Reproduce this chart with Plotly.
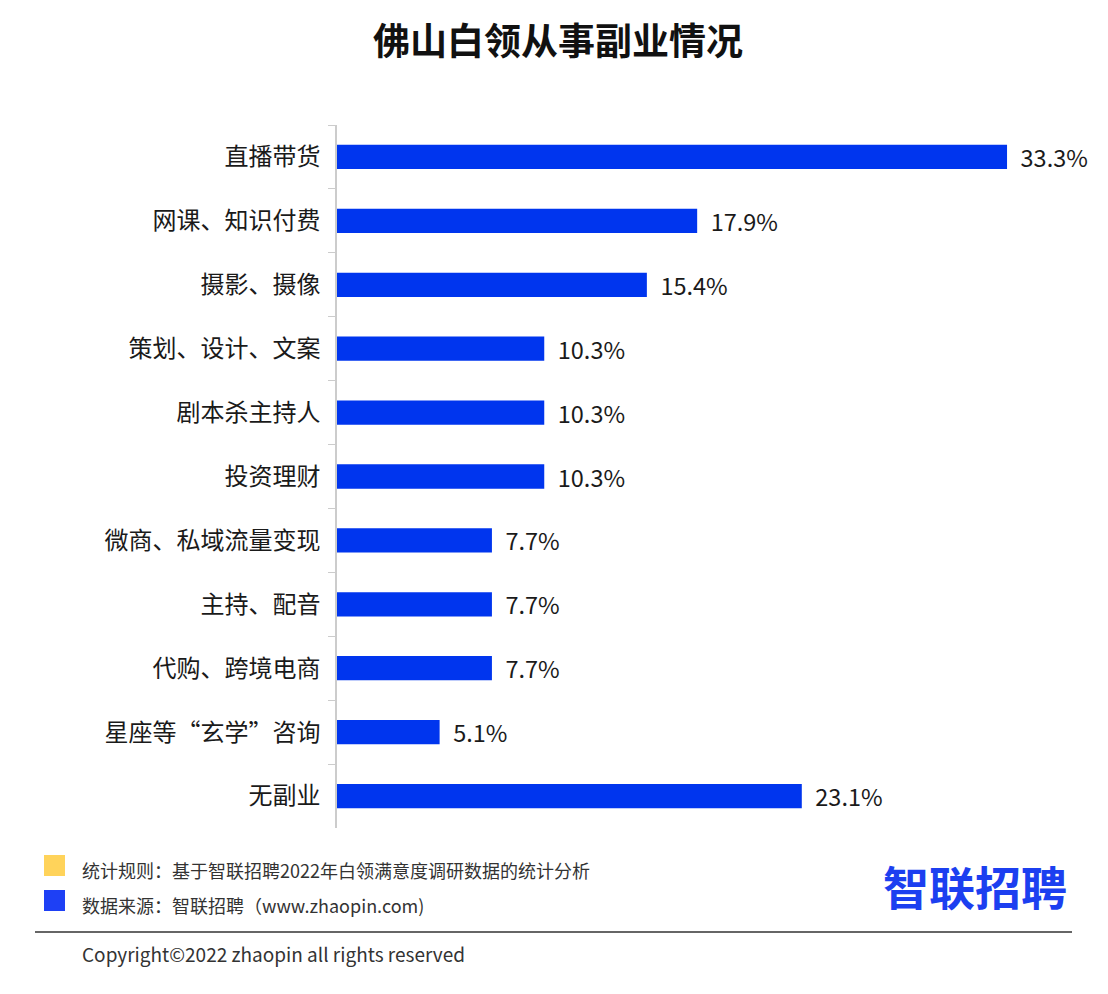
import plotly.graph_objects as go

categories = [
    '直播带货',
    '网课、知识付费',
    '摄影、摄像',
    '策划、设计、文案',
    '剧本杀主持人',
    '投资理财',
    '微商、私域流量变现',
    '主持、配音',
    '代购、跨境电商',
    '星座等“玄学”咨询',
    '无副业',
]
shares = [33.3, 17.9, 15.4, 10.3, 10.3, 10.3, 7.7, 7.7, 7.7, 5.1, 23.1]

font_cjk = 'Noto Sans CJK SC'

# page body has an 8px margin, so the figure is drawn 8px smaller
W, H = 1100, 986
L, R, T, B = 329, 8, 117, 166

fig = go.Figure()
fig.add_trace(go.Bar(
    y = categories, x = shares,
    orientation = 'h',
    marker = dict(color = '#0035ee', line = dict(width = 0)),
    width = 0.38,
    text = ['  {:.1f}%'.format(v) for v in shares],
    textposition = 'outside',
    constraintext = 'none',
    textfont = dict(size = 23.5, color = '#1a1a1a', family = font_cjk),
    cliponaxis = False,
    hoverinfo = 'none',
))

fig.update_layout(
    width = W, height = H,
    plot_bgcolor = 'white', paper_bgcolor = 'white',
    showlegend = False,
    margin = {'t': T, 'b': B, 'l': L, 'r': R},
    title = dict(
        text = '<b>佛山白领从事副业情况</b>',
        x = 0.5, xanchor = 'center', y = 1 - 34 / H, yanchor = 'middle',
        font = dict(size = 37, color = '#111111', family = font_cjk),
    ),
    font = dict(family = font_cjk),
    xaxis = dict(range = [0, 37.92], visible = False),
    yaxis = dict(
        autorange = 'reversed',
        showline = True, linecolor = '#cccccc', linewidth = 1.5,
        ticks = 'outside', tickson = 'boundaries', ticklen = 7, tickcolor = '#cccccc',
        tickfont = dict(size = 24, color = '#1a1a1a'),
        ticklabelstandoff = 10,
        showgrid = False,
    ),
)

# footer positions given in reference pixels, converted to paper coords
def px(x, y):
    x, y = x - 8, y - 8
    return (x - L) / (W - L - R), (H - B - y) / (H - T - B)

for color, y0 in [('#ffd35a', 855), ('#1e40f5', 890)]:
    x0p, y0p = px(44, y0)
    x1p, y1p = px(65, y0 + 21)
    fig.add_shape(type = 'rect', xref = 'paper', yref = 'paper',
                  x0 = x0p, x1 = x1p, y0 = y1p, y1 = y0p,
                  fillcolor = color, line = dict(width = 0))

notes = [
    ('统计规则：基于智联招聘2022年白领满意度调研数据的统计分析', 870, 18),
    ('数据来源：智联招聘（www.zhaopin.com)', 905, 18),
    ('Copyright©2022 zhaopin all rights reserved', 953, 19),
]
for txt, yy, fs in notes:
    xp, yp = px(80, yy)
    fig.add_annotation(text = txt, xref = 'paper', yref = 'paper', x = xp, y = yp,
                       xanchor = 'left', yanchor = 'middle', showarrow = False,
                       font = dict(size = fs, color = '#333333', family = font_cjk))

lx0, ly = px(35, 932)
lx1, _ = px(1072, 932)
fig.add_shape(type = 'line', xref = 'paper', yref = 'paper',
              x0 = lx0, x1 = lx1, y0 = ly, y1 = ly,
              line = dict(color = '#333333', width = 1.5))

gx, gy = px(975, 885)
fig.add_annotation(text = '<b>智联招聘</b>', xref = 'paper', yref = 'paper', x = gx, y = gy,
                   xanchor = 'center', yanchor = 'middle', showarrow = False,
                   font = dict(size = 46, color = '#1c3ff0', family = font_cjk))

fig.write_html('out.html')
